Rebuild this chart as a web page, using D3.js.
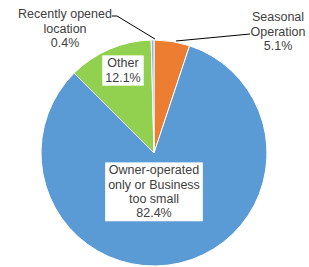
<!DOCTYPE html>
<html><head><meta charset="utf-8">
<script src="https://cdn.jsdelivr.net/npm/d3@7"></script>
<style>body{margin:0;background:#fff}svg{display:block}</style>
</head><body>
<script>
const categories = ["Seasonal Operation", "Owner-operated only or Business too small", "Other", "Recently opened location"];
const values = [5.1, 82.4, 12.1, 0.4];
const labelLines = [["Seasonal","Operation","5.1%"],["Owner-operated","only or Business","too small","82.4%"],["Other","12.1%"],["Recently opened","location","0.4%"]];
const colors = ["#ED7D31","#5B9BD5","#92D050","#8DB4E2"];

const W=309,H=267, cx=154, cy=153, r=113;
const svg=d3.select("body").append("svg").attr("width",W).attr("height",H);
const pie=d3.pie().sort(null).value(d=>d);
const arcs=pie(values);
const arc=d3.arc().innerRadius(0).outerRadius(r);
const g=svg.append("g").attr("transform",`translate(${cx},${cy})`);
g.selectAll("path").data(arcs).join("path").attr("d",arc)
 .attr("fill",(d,i)=>colors[i]).attr("stroke","#fff").attr("stroke-width",1);

const font="'Liberation Sans', Arial, sans-serif";
const lab=[
 {x:278,y:17,box:false},
 {x:154,y:170,box:true},
 {x:123,y:63,box:true},
 {x:65,y:14,box:false}
];
const lh=14.3;
svg.append("polyline").attr("points","250,34 176,41").attr("fill","none").attr("stroke","#000").attr("stroke-width",1);
svg.append("polyline").attr("points","112,16 117,16 155,39").attr("fill","none").attr("stroke","#000").attr("stroke-width",1);

lab.forEach((p,i)=>{
  const lines=labelLines[i];
  const gt=svg.append("g");
  const t=gt.append("text").attr("font-family",font).attr("font-size",12.5).attr("fill","#404040").attr("text-anchor","middle");
  lines.forEach((l,j)=>t.append("tspan").attr("x",p.x).attr("y",p.y+j*lh).attr("dy","0.35em").text(l));
  if(p.box){
    const bb=t.node().getBBox();
    gt.insert("rect","text").attr("x",bb.x-3).attr("y",bb.y-1).attr("width",bb.width+6).attr("height",bb.height+2).attr("fill","#fff");
  }
});
</script>
</body></html>
